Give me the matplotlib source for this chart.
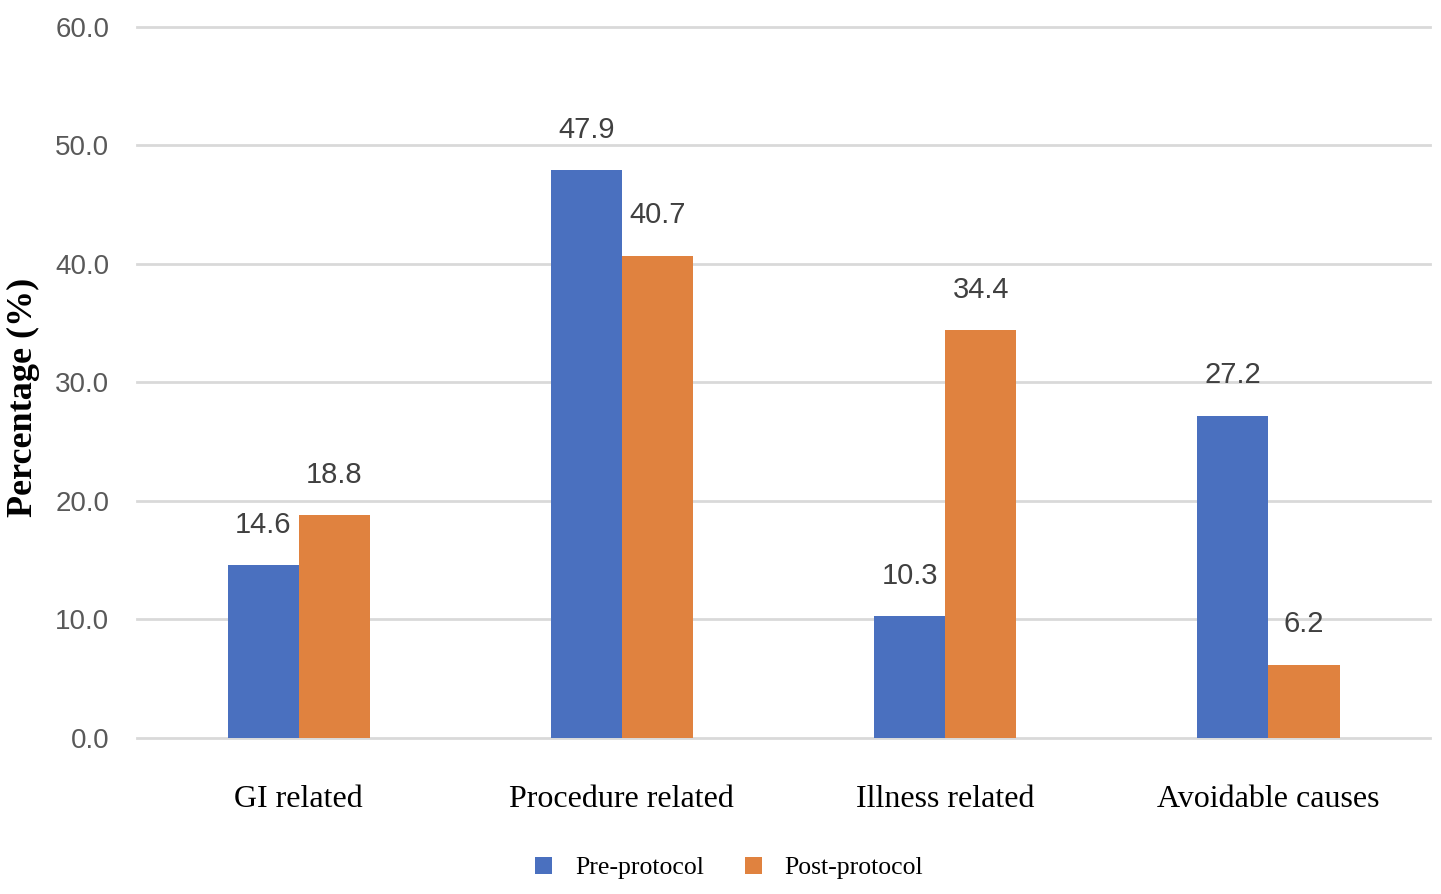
import matplotlib
matplotlib.use("Agg")
import matplotlib.pyplot as plt
import numpy as np
from matplotlib import font_manager

categories = ["GI related", "Procedure related", "Illness related", "Avoidable causes"]
pre_protocol = [14.6, 47.9, 10.3, 27.2]
post_protocol = [18.8, 40.7, 34.4, 6.2]
yticks = [0, 10, 20, 30, 40, 50, 60]
series_names = ["Pre-protocol", "Post-protocol"]

names = {f.name for f in font_manager.fontManager.ttflist}
sans = ["Liberation Sans Narrow", "DejaVu Sans"] if "Liberation Sans Narrow" in names else ["Liberation Sans", "DejaVu Sans"]
serif = ["Liberation Serif", "DejaVu Serif"]

blue = "#4A70BF"
orange = "#E0823F"
txt = "#404040"

fig = plt.figure(figsize=(14.41, 8.94), dpi=100)
ax = fig.add_axes([0.0951, 0.1745, 0.8973, 0.7953])

x = np.arange(len(categories))
w = 0.22
b1 = ax.bar(x - w / 2, pre_protocol, w, color=blue, label=series_names[0], zorder=3)
b2 = ax.bar(x + w / 2, post_protocol, w, color=orange, label=series_names[1], zorder=3)

for bars, vals in ((b1, pre_protocol), (b2, post_protocol)):
    for r, v in zip(bars, vals):
        ax.annotate(f"{v:.1f}", (r.get_x() + r.get_width() / 2, v), xytext=(0, 19),
                    textcoords="offset points", ha="center", va="bottom",
                    fontsize=21, color=txt, family=sans)

ax.set_xlim(-0.5, 3.5)
ax.set_ylim(0, 60)
ax.set_yticks(yticks)
ax.set_yticklabels([f"{t:.1f}" for t in yticks], family=sans, fontsize=20, color="#595959")
ax.set_xticks(x)
ax.set_xticklabels(categories, family=serif, fontsize=23, color="black")
ax.tick_params(axis="both", length=0)
ax.tick_params(axis="y", pad=20)
ax.tick_params(axis="x", pad=34)
ax.grid(axis="y", color="#D9D9D9", linewidth=2, zorder=0)
for gl in ax.get_ygridlines():
    gl.set_clip_on(False)
for s in ax.spines.values():
    s.set_visible(False)

fig.text(0.016, 0.555, "Percentage (%)", rotation=90, ha="center", va="center",
         family=serif, fontsize=26, fontweight="bold")

leg = fig.legend(handles=[b1, b2], labels=series_names, loc="center", bbox_to_anchor=(0.506, 0.029),
                 ncol=2, frameon=False, prop={"family": serif, "size": 18.5},
                 handlelength=0.65, handleheight=0.65, columnspacing=1.6, handletextpad=0.9)

fig.savefig("out.png", dpi=100)
